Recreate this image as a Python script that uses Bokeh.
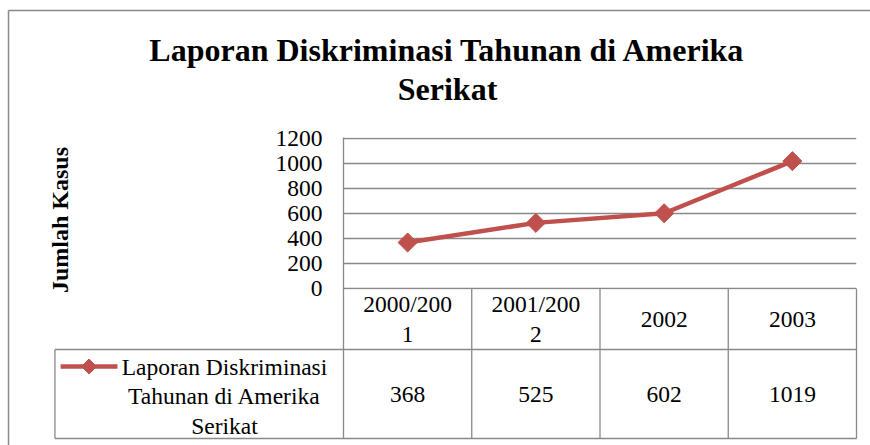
import textwrap
import numpy as np
from bokeh.plotting import figure
from bokeh.models import Range1d, FixedTicker
from bokeh.core.properties import value
from bokeh.embed import file_html
from bokeh.resources import INLINE

# ---------------- data ----------------
title_lines = ["Laporan Diskriminasi Tahunan di Amerika", "Serikat"]
y_label = "Jumlah Kasus"
categories = ["2000/2001", "2001/2002", "2002", "2003"]
cases = [368, 525, 602, 1019]
series_name = "Laporan Diskriminasi Tahunan di Amerika Serikat"
y_ticks = [0, 200, 400, 600, 800, 1000, 1200]

# ---------------- style ----------------
RED = "#c0504d"
GREY = "#898989"
FONT = "Liberation Serif"
TXT = "23.5px"

n = len(categories)
x = np.arange(n) + 0.5

p = figure(width=870, height=445, output_backend="svg", toolbar_location=None,
           x_range=Range1d(0, n), y_range=Range1d(-8, 1208),
           x_axis_location=None,
           min_border_left=343, min_border_right=14,
           min_border_top=137, min_border_bottom=156,
           background_fill_color="white", border_fill_color="white")
p.outline_line_color = None
p.xgrid.visible = False
p.ygrid.ticker = FixedTicker(ticks=y_ticks)
p.ygrid.grid_line_color = GREY
p.ygrid.grid_line_width = 1.3

ax = p.yaxis[0]
ax.ticker = FixedTicker(ticks=y_ticks)
ax.major_tick_line_color = None
ax.minor_tick_line_color = None
ax.major_tick_out = 0
ax.major_tick_in = 0
ax.axis_line_color = GREY
ax.axis_line_width = 1.3
ax.major_label_text_font = FONT
ax.major_label_text_font_size = TXT
ax.major_label_text_color = "black"
ax.major_label_standoff = 21

# ---------------- series ----------------
p.line(x, cases, line_color=RED, line_width=4.5)
p.scatter(x, cases, marker="square", angle=np.pi / 4, size=13.5,
          fill_color=RED, line_color=RED)

# ---------------- layout constants (data units) ----------------
HDR_BOTTOM = -488
TABLE_BOTTOM = -1200
LEG_LEFT = -2.25
HDR_MID = -244
HDR_STEP = 240
VAL_MID = -844
LINE_STEP = 236
LEG_TOP_LINE = -624
LEG_TEXT_X = -0.928
KEY_X0, KEY_X1 = -2.206, -1.762
KEY_DX, KEY_DY = 0.058, 60
TITLE_X = 0.811
TITLE_Y = [1912, 1600]
YLAB_X, YLAB_Y = -2.207, 548
BORDER_LEFT, BORDER_TOP, BORDER_BOTTOM, BORDER_RIGHT = -2.612, 2224, -1264, 4.2

# ---------------- outer chart border ----------------
p.segment([BORDER_LEFT, BORDER_LEFT], [BORDER_TOP, BORDER_TOP],
          [BORDER_RIGHT, BORDER_LEFT], [BORDER_TOP, BORDER_BOTTOM],
          line_color=GREY, line_width=1.5, level="overlay")

# ---------------- title & axis title ----------------
p.text([TITLE_X] * len(title_lines), TITLE_Y, text=title_lines,
       text_font=value(FONT), text_font_size=value("32px"),
       text_font_style="bold", text_color="black",
       text_align="center", text_baseline="middle", level="overlay")
p.text([YLAB_X], [YLAB_Y], text=[y_label], angle=np.pi / 2,
       text_font=value(FONT), text_font_size=value("24px"),
       text_font_style="bold", text_color="black",
       text_align="center", text_baseline="middle", level="overlay")

# ---------------- data table ----------------
vx0 = list(range(n + 1)) + [LEG_LEFT]
vy0 = [0] * (n + 1) + [HDR_BOTTOM]
vy1 = [TABLE_BOTTOM] * (n + 2)
p.segment(vx0, vy0, vx0, vy1, line_color=GREY, line_width=1.3, level="overlay")
p.segment([LEG_LEFT, LEG_LEFT], [HDR_BOTTOM, TABLE_BOTTOM], [n, n],
          [HDR_BOTTOM, TABLE_BOTTOM], line_color=GREY, line_width=1.3, level="overlay")

hx, hy, ht = [], [], []
for i, cat in enumerate(categories):
    lines = textwrap.wrap(cat, 8)
    k = len(lines)
    for j, ln in enumerate(lines):
        hx.append(x[i])
        hy.append(HDR_MID + ((k - 1) / 2 - j) * HDR_STEP)
        ht.append(ln)
p.text(hx, hy, text=ht, text_font=value(FONT), text_font_size=value(TXT),
       text_color="black", text_align="center", text_baseline="middle", level="overlay")

p.text(x, [VAL_MID] * n, text=[str(v) for v in cases], text_font=value(FONT),
       text_font_size=value(TXT), text_color="black", text_align="center",
       text_baseline="middle", level="overlay")

# legend key inside the table
leg_lines = textwrap.wrap(series_name, 20)
p.text([LEG_TEXT_X] * len(leg_lines),
       [LEG_TOP_LINE - j * LINE_STEP for j in range(len(leg_lines))],
       text=leg_lines, text_font=value(FONT), text_font_size=value(TXT),
       text_color="black", text_align="center", text_baseline="middle", level="overlay")
p.line([KEY_X0, KEY_X1], [LEG_TOP_LINE, LEG_TOP_LINE], line_color=RED,
       line_width=4.5, level="overlay")
kx = (KEY_X0 + KEY_X1) / 2
p.patch([kx - KEY_DX, kx, kx + KEY_DX, kx],
        [LEG_TOP_LINE, LEG_TOP_LINE + KEY_DY, LEG_TOP_LINE, LEG_TOP_LINE - KEY_DY],
        fill_color=RED, line_color=RED, level="overlay")

open("out.html", "w").write(file_html(p, INLINE))
